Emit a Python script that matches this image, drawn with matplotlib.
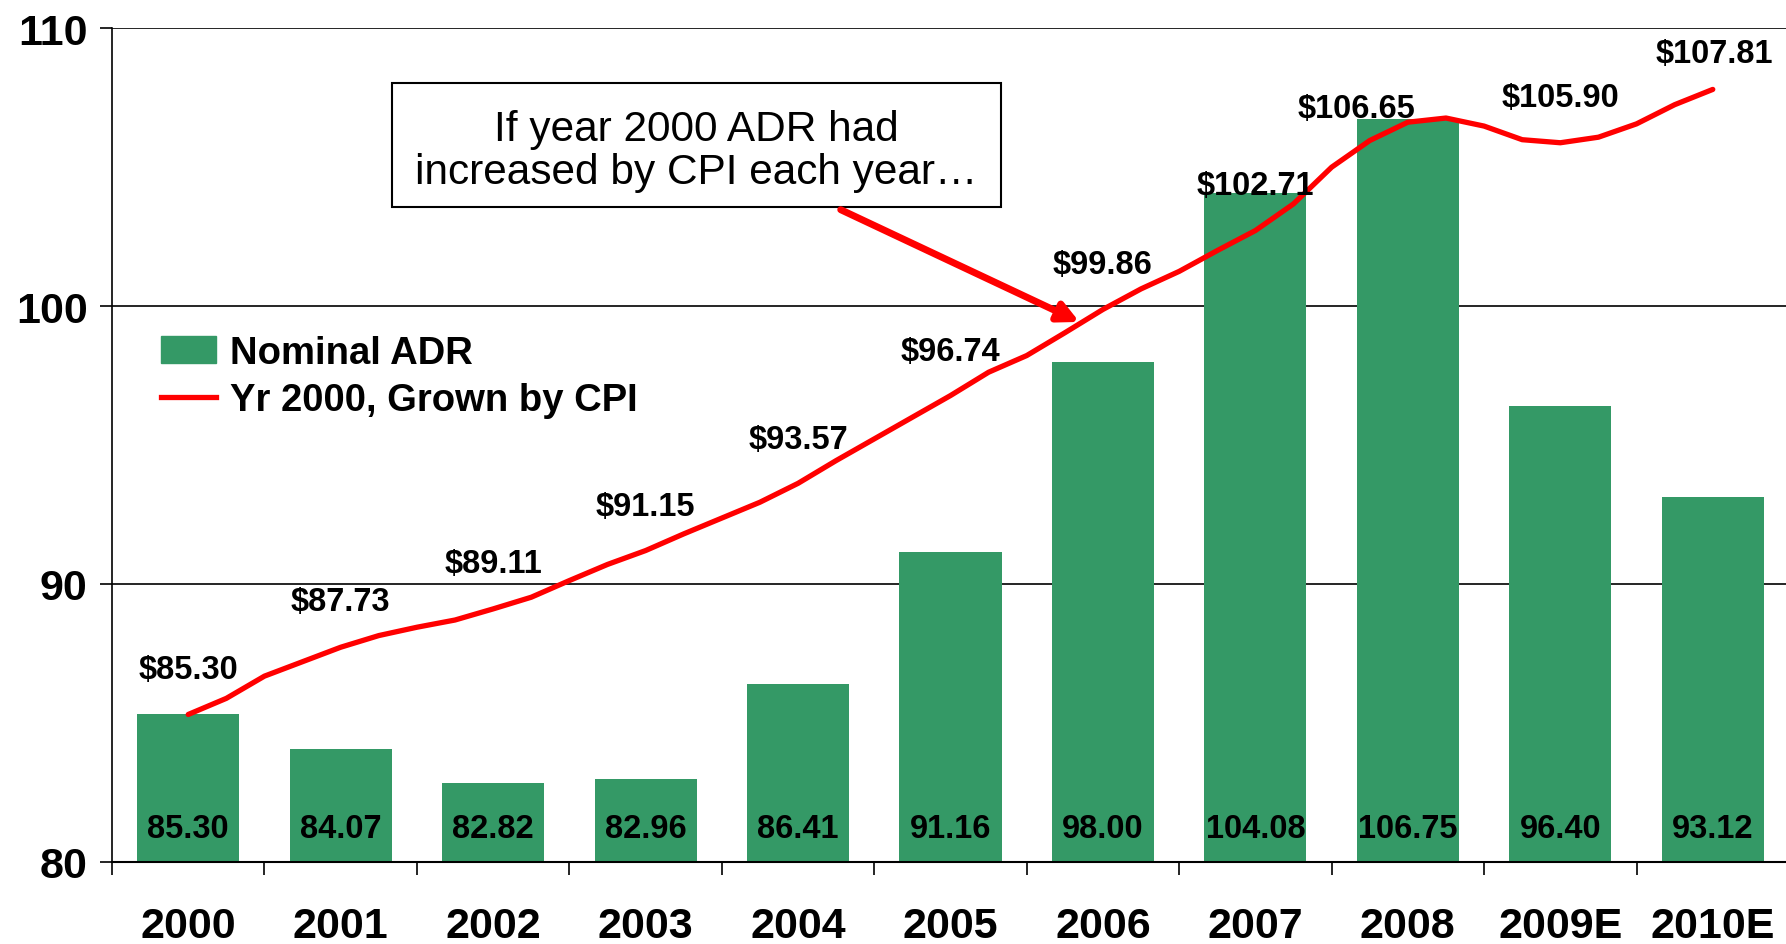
import numpy as np
import matplotlib
matplotlib.use("Agg")
import matplotlib.pyplot as plt
from matplotlib.patches import Patch, Rectangle
from matplotlib.lines import Line2D

plt.rcParams['font.family'] = ['Liberation Sans', 'DejaVu Sans']

years = ['2000', '2001', '2002', '2003', '2004', '2005', '2006', '2007', '2008', '2009E', '2010E']
nominal_adr = [85.30, 84.07, 82.82, 82.96, 86.41, 91.16, 98.00, 104.08, 106.75, 96.40, 93.12]
cpi_labels = [85.30, 87.73, 89.11, 91.15, 93.57, 96.74, 99.86, 102.71, 106.65, 105.90, 107.81]
# quarterly readings of the CPI-grown line, 2000 Q1 .. 2010
cpi_quarterly = [85.30, 85.88, 86.68, 87.20,
                 87.72, 88.14, 88.44, 88.70,
                 89.10, 89.52, 90.12, 90.70,
                 91.20, 91.80, 92.37, 92.94,
                 93.62, 94.44, 95.22, 96.00,
                 96.78, 97.62, 98.22, 99.04,
                 99.88, 100.62, 101.25, 102.00,
                 102.72, 103.68, 105.00, 105.96,
                 106.62, 106.77, 106.48, 105.99,
                 105.88, 106.08, 106.56, 107.25,
                 107.80]

GREEN = '#349966'
RED = '#ff0000'

W, H = 1786, 945
fig = plt.figure(figsize=(W / 100, H / 100), dpi=100)
ax = fig.add_axes([112 / W, 82.3 / H, 1677 / W, 833.4 / H])

x = np.arange(len(years))
ax.bar(x, nominal_adr, width=0.67, color=GREEN, zorder=2)
xq = np.arange(len(cpi_quarterly)) / 4
ax.plot(xq, cpi_quarterly, color=RED, lw=3.8, solid_capstyle='round',
        solid_joinstyle='round', zorder=3)

ax.set_xlim(-0.5, len(years) - 0.5)
ax.set_ylim(80, 110)
ax.set_yticks([80, 90, 100, 110])
ax.set_xticks(x)
ax.set_xticklabels(years)
ax.set_xticks(np.arange(len(years) + 1) - 0.5, minor=True)
ax.tick_params(axis='x', which='major', length=0, pad=32, labelsize=31)
ax.tick_params(axis='x', which='minor', length=9.5, width=1.2, direction='out')
ax.tick_params(axis='y', length=8.6, width=1.2, direction='out', pad=9, labelsize=31)
for lab in ax.get_xticklabels() + ax.get_yticklabels():
    lab.set_fontweight('bold')

ax.grid(axis='y', color='black', lw=1.2, zorder=1)
ax.set_axisbelow(True)
for s in ['top', 'right']:
    ax.spines[s].set_visible(False)
ax.spines['left'].set_linewidth(1.2)
ax.spines['bottom'].set_linewidth(1.5)
ax.spines['bottom'].set_zorder(4)

# values inside bars
for i, v in enumerate(nominal_adr):
    ax.text(i, 81.18, f'{v:.2f}', ha='center', va='center', fontsize=23.5,
            fontweight='bold', zorder=4)

# dollar labels above line
nudge = {8: (-37, -23), 10: (1, -7)}
for i, v in enumerate(cpi_labels):
    dx, dy = nudge.get(i, (0, 0))
    ax.annotate(f'${v:.2f}', xy=(i, v), xytext=(dx, 32.5 + dy), textcoords='offset points',
                ha='center', va='center', fontsize=23.5, fontweight='bold', zorder=5)

# callout box and arrow
ax.add_patch(Rectangle((1.337, 103.57), 3.995, 4.47, fill=False, ec='black', lw=1.5, zorder=6))
ax.text(3.335, 106.38, 'If year 2000 ADR had', ha='center', va='center', fontsize=30.5, zorder=6)
ax.text(3.335, 104.83, 'increased by CPI each year\u2026', ha='center', va='center', fontsize=30.5, zorder=6)
ax.annotate('', xy=(5.845, 99.43), xytext=(4.28, 103.47),
            arrowprops=dict(arrowstyle='-|>,head_length=1.2,head_width=0.6',
                            color=RED, lw=5, shrinkA=0, shrinkB=0), zorder=6)

handles = [Patch(color=GREEN), Line2D([0], [0], color=RED, lw=3.8)]
ax.legend(handles, ['Nominal ADR', 'Yr 2000, Grown by CPI'], loc='upper left',
          bbox_to_anchor=(49 / 1677, 0.632), frameon=False, borderpad=0, borderaxespad=0,
          handlelength=1.45, handleheight=0.7, handletextpad=0.36, labelspacing=0.3,
          prop=dict(size=27.5, weight='bold'))

fig.savefig('out.png', dpi=100)
